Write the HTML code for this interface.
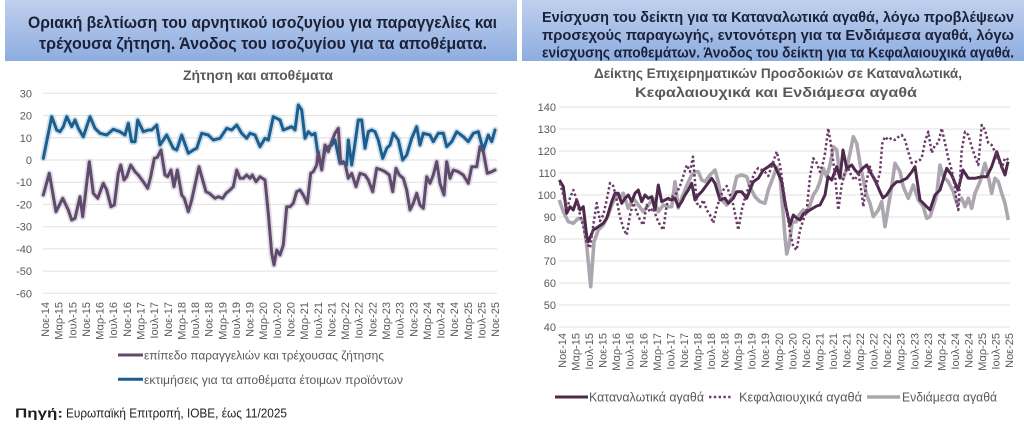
<!DOCTYPE html>
<html><head><meta charset="utf-8"><style>
html,body{margin:0;padding:0;background:#fff;width:1024px;height:424px;overflow:hidden}
svg{display:block}
text{font-family:"Liberation Sans","Noto Sans CJK SC",sans-serif}
</style></head><body>
<svg width="1024" height="424" viewBox="0 0 1024 424" xmlns="http://www.w3.org/2000/svg">
<defs>
<linearGradient id="hg" x1="0" y1="0" x2="0" y2="1">
<stop offset="0" stop-color="#c0d0ed"/><stop offset="1" stop-color="#8dade0"/>
</linearGradient>
</defs>
<rect x="0" y="0" width="1024" height="424" fill="#fff"/>
<!-- headers -->
<rect x="5" y="0" width="512" height="61" fill="url(#hg)"/>
<rect x="522" y="0" width="502" height="61" fill="url(#hg)"/>
<g fill="#1b2138" font-weight="bold">
<text x="28" y="28" font-size="16.5" textLength="469" lengthAdjust="spacingAndGlyphs">Οριακή βελτίωση του αρνητικού ισοζυγίου για παραγγελίες και</text>
<text x="39" y="49" font-size="16.5" textLength="448" lengthAdjust="spacingAndGlyphs">τρέχουσα ζήτηση. Άνοδος του ισοζυγίου για τα αποθέματα.</text>
<text x="542" y="22" font-size="14.5" textLength="472" lengthAdjust="spacingAndGlyphs">Ενίσχυση του δείκτη για τα Καταναλωτικά αγαθά, λόγω προβλέψεων</text>
<text x="542" y="40" font-size="14.5" textLength="472" lengthAdjust="spacingAndGlyphs">προσεχούς παραγωγής, εντονότερη για τα Ενδιάμεσα αγαθά, λόγω</text>
<text x="542" y="57.5" font-size="14.5" textLength="472" lengthAdjust="spacingAndGlyphs">ενίσχυσης αποθεμάτων. Άνοδος του δείκτη για τα Κεφαλαιουχικά αγαθά.</text>
</g>
<!-- chart titles -->
<g fill="#595959" font-weight="bold">
<text x="183" y="80" font-size="13.5" textLength="150" lengthAdjust="spacingAndGlyphs">Ζήτηση και αποθέματα</text>
<text x="594" y="78" font-size="13.5" textLength="368" lengthAdjust="spacingAndGlyphs">Δείκτης Επιχειρηματικών Προσδοκιών σε Καταναλωτικά,</text>
<text x="635" y="97" font-size="13.5" textLength="282" lengthAdjust="spacingAndGlyphs">Κεφαλαιουχικά και Ενδιάμεσα αγαθά</text>
</g>
<!-- left gridlines -->
<g stroke="#e0e0e0" stroke-width="1">
<line x1="43" x2="497" y1="93.3" y2="93.3"/><line x1="43" x2="497" y1="115.6" y2="115.6"/>
<line x1="43" x2="497" y1="137.8" y2="137.8"/><line x1="43" x2="497" y1="160" y2="160"/>
<line x1="43" x2="497" y1="182.2" y2="182.2"/><line x1="43" x2="497" y1="204.4" y2="204.4"/>
<line x1="43" x2="497" y1="226.7" y2="226.7"/><line x1="43" x2="497" y1="248.9" y2="248.9"/>
<line x1="43" x2="497" y1="271.1" y2="271.1"/><line x1="43" x2="497" y1="293.3" y2="293.3"/>
</g>
<g fill="#595959" font-size="11" text-anchor="end">
<text x="32" y="97.3">30</text><text x="32" y="119.6">20</text><text x="32" y="141.8">10</text>
<text x="32" y="164">0</text><text x="32" y="186.2">-10</text><text x="32" y="208.4">-20</text>
<text x="32" y="230.7">-30</text><text x="32" y="252.9">-40</text><text x="32" y="275.1">-50</text>
<text x="32" y="297.3">-60</text>
</g>
<!-- right gridlines -->
<g stroke="#e0e0e0" stroke-width="1">
<line x1="559" x2="1010" y1="107" y2="107"/><line x1="559" x2="1010" y1="129" y2="129"/>
<line x1="559" x2="1010" y1="151" y2="151"/><line x1="559" x2="1010" y1="173" y2="173"/>
<line x1="559" x2="1010" y1="195" y2="195"/><line x1="559" x2="1010" y1="217" y2="217"/>
<line x1="559" x2="1010" y1="239" y2="239"/><line x1="559" x2="1010" y1="261" y2="261"/>
<line x1="559" x2="1010" y1="283" y2="283"/><line x1="559" x2="1010" y1="305" y2="305"/>
<line x1="559" x2="1010" y1="327" y2="327"/>
</g>
<g fill="#595959" font-size="11" text-anchor="end">
<text x="556" y="111">140</text><text x="556" y="133">130</text><text x="556" y="155">120</text>
<text x="556" y="177">110</text><text x="556" y="199">100</text><text x="556" y="221">90</text>
<text x="556" y="243">80</text><text x="556" y="265">70</text><text x="556" y="287">60</text>
<text x="556" y="309">50</text><text x="556" y="331">40</text>
</g>
<!-- left x labels -->
<g fill="#595959" font-size="11" text-anchor="end">
<text transform="translate(45,302) rotate(-90)" y="4">Νοε-14</text>
<text transform="translate(58.6,302) rotate(-90)" y="4">Μαρ-15</text>
<text transform="translate(72.3,302) rotate(-90)" y="4">Ιουλ-15</text>
<text transform="translate(85.9,302) rotate(-90)" y="4">Νοε-15</text>
<text transform="translate(99.6,302) rotate(-90)" y="4">Μαρ-16</text>
<text transform="translate(113.2,302) rotate(-90)" y="4">Ιουλ-16</text>
<text transform="translate(126.8,302) rotate(-90)" y="4">Νοε-16</text>
<text transform="translate(140.5,302) rotate(-90)" y="4">Μαρ-17</text>
<text transform="translate(154.1,302) rotate(-90)" y="4">Ιουλ-17</text>
<text transform="translate(167.8,302) rotate(-90)" y="4">Νοε-17</text>
<text transform="translate(181.4,302) rotate(-90)" y="4">Μαρ-18</text>
<text transform="translate(195,302) rotate(-90)" y="4">Ιουλ-18</text>
<text transform="translate(208.7,302) rotate(-90)" y="4">Νοε-18</text>
<text transform="translate(222.3,302) rotate(-90)" y="4">Μαρ-19</text>
<text transform="translate(236,302) rotate(-90)" y="4">Ιουλ-19</text>
<text transform="translate(249.6,302) rotate(-90)" y="4">Νοε-19</text>
<text transform="translate(263.2,302) rotate(-90)" y="4">Μαρ-20</text>
<text transform="translate(276.9,302) rotate(-90)" y="4">Ιουλ-20</text>
<text transform="translate(290.5,302) rotate(-90)" y="4">Νοε-20</text>
<text transform="translate(304.2,302) rotate(-90)" y="4">Μαρ-21</text>
<text transform="translate(317.8,302) rotate(-90)" y="4">Ιουλ-21</text>
<text transform="translate(331.4,302) rotate(-90)" y="4">Νοε-21</text>
<text transform="translate(345.1,302) rotate(-90)" y="4">Μαρ-22</text>
<text transform="translate(358.7,302) rotate(-90)" y="4">Ιουλ-22</text>
<text transform="translate(372.4,302) rotate(-90)" y="4">Νοε-22</text>
<text transform="translate(386,302) rotate(-90)" y="4">Μαρ-23</text>
<text transform="translate(399.6,302) rotate(-90)" y="4">Ιουλ-23</text>
<text transform="translate(413.3,302) rotate(-90)" y="4">Νοε-23</text>
<text transform="translate(426.9,302) rotate(-90)" y="4">Μαρ-24</text>
<text transform="translate(440.6,302) rotate(-90)" y="4">Ιουλ-24</text>
<text transform="translate(454.2,302) rotate(-90)" y="4">Νοε-24</text>
<text transform="translate(467.8,302) rotate(-90)" y="4">Μαρ-25</text>
<text transform="translate(481.5,302) rotate(-90)" y="4">Ιουλ-25</text>
<text transform="translate(495.1,302) rotate(-90)" y="4">Νοε-25</text>
</g>
<!-- right x labels -->
<g fill="#595959" font-size="11" text-anchor="end">
<text transform="translate(562,333) rotate(-90)" y="4">Νοε-14</text>
<text transform="translate(575.5,333) rotate(-90)" y="4">Μαρ-15</text>
<text transform="translate(589.1,333) rotate(-90)" y="4">Ιουλ-15</text>
<text transform="translate(602.6,333) rotate(-90)" y="4">Νοε-15</text>
<text transform="translate(616.2,333) rotate(-90)" y="4">Μαρ-16</text>
<text transform="translate(629.7,333) rotate(-90)" y="4">Ιουλ-16</text>
<text transform="translate(643.3,333) rotate(-90)" y="4">Νοε-16</text>
<text transform="translate(656.8,333) rotate(-90)" y="4">Μαρ-17</text>
<text transform="translate(670.4,333) rotate(-90)" y="4">Ιουλ-17</text>
<text transform="translate(683.9,333) rotate(-90)" y="4">Νοε-17</text>
<text transform="translate(697.5,333) rotate(-90)" y="4">Μαρ-18</text>
<text transform="translate(711,333) rotate(-90)" y="4">Ιουλ-18</text>
<text transform="translate(724.6,333) rotate(-90)" y="4">Νοε-18</text>
<text transform="translate(738.1,333) rotate(-90)" y="4">Μαρ-19</text>
<text transform="translate(751.7,333) rotate(-90)" y="4">Ιουλ-19</text>
<text transform="translate(765.2,333) rotate(-90)" y="4">Νοε-19</text>
<text transform="translate(778.8,333) rotate(-90)" y="4">Μαρ-20</text>
<text transform="translate(792.3,333) rotate(-90)" y="4">Ιουλ-20</text>
<text transform="translate(805.9,333) rotate(-90)" y="4">Νοε-20</text>
<text transform="translate(819.4,333) rotate(-90)" y="4">Μαρ-21</text>
<text transform="translate(833,333) rotate(-90)" y="4">Ιουλ-21</text>
<text transform="translate(846.5,333) rotate(-90)" y="4">Νοε-21</text>
<text transform="translate(860.1,333) rotate(-90)" y="4">Μαρ-22</text>
<text transform="translate(873.6,333) rotate(-90)" y="4">Ιουλ-22</text>
<text transform="translate(887.2,333) rotate(-90)" y="4">Νοε-22</text>
<text transform="translate(900.7,333) rotate(-90)" y="4">Μαρ-23</text>
<text transform="translate(914.3,333) rotate(-90)" y="4">Ιουλ-23</text>
<text transform="translate(927.8,333) rotate(-90)" y="4">Νοε-23</text>
<text transform="translate(941.4,333) rotate(-90)" y="4">Μαρ-24</text>
<text transform="translate(954.9,333) rotate(-90)" y="4">Ιουλ-24</text>
<text transform="translate(968.5,333) rotate(-90)" y="4">Νοε-24</text>
<text transform="translate(982,333) rotate(-90)" y="4">Μαρ-25</text>
<text transform="translate(995.6,333) rotate(-90)" y="4">Ιουλ-25</text>
<text transform="translate(1009,333) rotate(-90)" y="4">Νοε-25</text>
</g>
<!-- left series -->
<g fill="none" stroke-linejoin="round" stroke-linecap="round">
<polyline id="blue" stroke="#a9c6df" stroke-width="6.5" opacity="0.55" points="43.3,158.3 51.7,116.7 56.7,130 60,131.7 63.3,126.7 66.7,116.7 71.7,126.7 75,120 78.3,128.3 83.3,136.7 90,116.7 95,128.3 100,133.3 106.7,135 113.3,129.3 120,131.7 125,135 128.3,123.3 131.7,141.7 135,141.7 137.7,120 143.3,131.7 148.3,130 151.7,130 156.7,125 160,145 166.7,135 173.3,148.3 176.7,150 181.7,135 188.3,153.3 193.3,150 196.7,148.3 201.7,133.3 208.3,135 213.3,140 220,138.3 226.7,128.3 231.7,130 236.7,125 241.7,133.3 246.7,138.3 250,133.3 255,135 260,146.7 265,138.3 268.3,140 273.3,116.7 280,120 283.3,130 291.7,126.7 295,130 298.3,105 301.7,110 305,138.3 308.3,131.7 311.7,135 315,133.3 318.3,156.7 321.7,166.7 325,150 328.3,146.7 331.7,145 335,140 340,163.3 343.3,161.7 346.7,165 348.3,140 351.7,165 355,143.3 358.3,120 361.7,120 365,148.3 368.3,131.7 371.7,130 375,131.7 378.3,140 382.7,158.3 386.7,148.3 390,145 393.3,133.3 398.3,140 402.7,160 406.7,155 411.7,138.3 416.7,126.7 420,145 423.3,133.3 430,135 433.3,141.7 438.3,133.3 443.3,133.3 446.7,146.7 451.7,141.7 456.7,131.7 463.3,136.7 468.3,141.7 473.3,133.3 478.3,131.7 483.3,150 488.3,135 491.7,141.7 495,130"/>
<polyline stroke="#c9bfd0" stroke-width="6.5" opacity="0.55" points="43.3,195 49.3,173.3 56,211.7 62.7,198.3 68.3,210 71.7,220 75,218.3 80,196.7 82.7,216.7 89.3,161.7 93.3,193.3 97.7,198.3 103.3,183.3 106.7,190 111,206.7 114.3,205 118.3,173.3 120.7,165 124,180 126.7,176.7 130.7,165 135,171.7 138.3,175 143.3,181.7 147.7,188.3 150.7,176.7 154.3,158.3 157.3,157.3 161,150 165,175 167.7,176.7 171,170 174,186.7 177.3,170 181.7,195 184.3,198.3 188.3,211.7 191.7,200 195.7,181.7 199,166.7 201.7,176.7 206,191.7 209.3,193.3 215,198.3 218.3,196.7 222.7,198.3 226,193.3 230,190 233.3,186.7 236.7,170 240,178.3 243.3,178.3 246.7,175 250,178.3 252.3,175 256,181.7 260,176.7 265,180 268.3,213.3 271.7,253.3 274,265 276.7,250 280,255 283.3,245 286.7,206.7 290,206.7 293.3,203.3 296.7,191.7 300,190 303.3,195 307.3,203.3 310.7,173.3 313.3,171.7 316.7,165 318.3,151.7 321.7,170 325,145 328.3,151.7 331.7,141.7 335,133.3 338.3,128.3 340.7,163.3 345,163.3 348.3,178.3 351.7,173.3 356,186.7 360,173.3 365,175 368.3,180 372.7,191.7 376.7,168.3 381.7,170 385,171.7 389.3,175 392.7,191.7 396,168.3 399.3,175 403.3,178.3 406.7,190 410,210 413.3,203.3 416.7,193.3 420,205 423.3,208.3 426.7,176.7 430,183.3 433.3,175 436.7,161.7 440,183.3 444,195 446.7,161.7 450,178.3 453.3,170 458.3,171.7 463.3,175 468.3,183.3 471.7,166.7 476.7,166.7 480,146.7 483.3,151.7 487.3,173.3 491.7,171.7 495,170"/>
<polyline stroke="#1c5f8e" stroke-width="3" points="43.3,158.3 51.7,116.7 56.7,130 60,131.7 63.3,126.7 66.7,116.7 71.7,126.7 75,120 78.3,128.3 83.3,136.7 90,116.7 95,128.3 100,133.3 106.7,135 113.3,129.3 120,131.7 125,135 128.3,123.3 131.7,141.7 135,141.7 137.7,120 143.3,131.7 148.3,130 151.7,130 156.7,125 160,145 166.7,135 173.3,148.3 176.7,150 181.7,135 188.3,153.3 193.3,150 196.7,148.3 201.7,133.3 208.3,135 213.3,140 220,138.3 226.7,128.3 231.7,130 236.7,125 241.7,133.3 246.7,138.3 250,133.3 255,135 260,146.7 265,138.3 268.3,140 273.3,116.7 280,120 283.3,130 291.7,126.7 295,130 298.3,105 301.7,110 305,138.3 308.3,131.7 311.7,135 315,133.3 318.3,156.7 321.7,166.7 325,150 328.3,146.7 331.7,145 335,140 340,163.3 343.3,161.7 346.7,165 348.3,140 351.7,165 355,143.3 358.3,120 361.7,120 365,148.3 368.3,131.7 371.7,130 375,131.7 378.3,140 382.7,158.3 386.7,148.3 390,145 393.3,133.3 398.3,140 402.7,160 406.7,155 411.7,138.3 416.7,126.7 420,145 423.3,133.3 430,135 433.3,141.7 438.3,133.3 443.3,133.3 446.7,146.7 451.7,141.7 456.7,131.7 463.3,136.7 468.3,141.7 473.3,133.3 478.3,131.7 483.3,150 488.3,135 491.7,141.7 495,130"/>
<polyline stroke="#5f4b6b" stroke-width="3" points="43.3,195 49.3,173.3 56,211.7 62.7,198.3 68.3,210 71.7,220 75,218.3 80,196.7 82.7,216.7 89.3,161.7 93.3,193.3 97.7,198.3 103.3,183.3 106.7,190 111,206.7 114.3,205 118.3,173.3 120.7,165 124,180 126.7,176.7 130.7,165 135,171.7 138.3,175 143.3,181.7 147.7,188.3 150.7,176.7 154.3,158.3 157.3,157.3 161,150 165,175 167.7,176.7 171,170 174,186.7 177.3,170 181.7,195 184.3,198.3 188.3,211.7 191.7,200 195.7,181.7 199,166.7 201.7,176.7 206,191.7 209.3,193.3 215,198.3 218.3,196.7 222.7,198.3 226,193.3 230,190 233.3,186.7 236.7,170 240,178.3 243.3,178.3 246.7,175 250,178.3 252.3,175 256,181.7 260,176.7 265,180 268.3,213.3 271.7,253.3 274,265 276.7,250 280,255 283.3,245 286.7,206.7 290,206.7 293.3,203.3 296.7,191.7 300,190 303.3,195 307.3,203.3 310.7,173.3 313.3,171.7 316.7,165 318.3,151.7 321.7,170 325,145 328.3,151.7 331.7,141.7 335,133.3 338.3,128.3 340.7,163.3 345,163.3 348.3,178.3 351.7,173.3 356,186.7 360,173.3 365,175 368.3,180 372.7,191.7 376.7,168.3 381.7,170 385,171.7 389.3,175 392.7,191.7 396,168.3 399.3,175 403.3,178.3 406.7,190 410,210 413.3,203.3 416.7,193.3 420,205 423.3,208.3 426.7,176.7 430,183.3 433.3,175 436.7,161.7 440,183.3 444,195 446.7,161.7 450,178.3 453.3,170 458.3,171.7 463.3,175 468.3,183.3 471.7,166.7 476.7,166.7 480,146.7 483.3,151.7 487.3,173.3 491.7,171.7 495,170"/>
</g>
<!-- right series -->
<g fill="none" stroke-linejoin="round">
<polyline stroke="#aca7af" stroke-width="3.6" points="559.3,200 563.3,211.7 568.3,221.7 573.3,223.3 578.3,218.3 583.3,220 586.7,245 590.7,286.7 594,241.7 598.3,230 603.3,225 608.3,215 611.7,205 616.7,195 620,198.3 623.3,193.3 628.3,208.3 633.3,198.3 638.3,205 643.3,211.7 648.3,205 653.3,198.3 658.3,211.7 663.3,205 668.3,206.7 671.7,206.7 675,181.7 678.3,208 681.7,198 685,190 688.3,182 691.7,175 695,172 698.3,171.7 701.7,180 705,181.7 710,175 715,170 718.3,181.7 721.7,200 726.7,205 731.7,198 736.7,176.7 741.7,175 746.7,176.7 750,186.7 755,196.7 760,201.7 765,203.3 768.3,190 773.3,176.7 776.7,167 780,176.7 783.3,215 785,236.7 786.7,254 789,245 792.3,222 796,222 799,215 803.3,210 806.7,213 810,205 813.3,195 816.7,190 820,181.7 823.3,168.3 826.7,176.7 830,165 833.3,146.7 836.7,150 840,176.7 843.3,178.3 846.7,168.3 850,153.3 853.3,136.7 856.7,143.3 860,163.3 863.3,180 866.7,195 870,203.3 873.3,216.7 878.3,210 881.7,201.7 885,226.7 888.3,206.7 891.7,186.7 895,163.3 900,171.7 903.3,186.7 908.3,198.3 913.3,185 918.3,200 923.3,206.7 926.7,218.3 930,216.7 933.3,206.7 936.7,195 940,165 943.3,176.7 948.3,181.7 953.3,191.7 956.7,203.3 961.7,198.3 965,206.7 968.3,198.3 971.7,208.3 975,193.3 980,181.7 985,163.3 988.3,176.7 991.7,193.3 995,178.3 998.3,181.7 1001.7,193.3 1005,203.3 1008.3,220"/>
<polyline stroke="#4d2a4c" stroke-width="3" points="559.3,180 563.3,186.7 566.7,213.3 570,206.7 573.3,210 576.7,200 580,210 583.3,206.7 586.7,236 588.3,241.7 593.3,230 598.3,226.7 603.3,223.3 606.7,218.3 611.7,201.7 615,193.3 618.3,193.3 621.7,203.3 625,198.3 628.3,195 631.7,201.7 635,193.3 638.3,190 641.7,201.7 645,195 648.3,198.3 651.7,196.7 655,210 658.3,185 661.7,201.7 665,200 668.3,198.3 671.7,200 675,198.3 678.3,206.7 681.7,201.7 685,195 688.3,190 691.7,183.3 695,200 698.3,195 701.7,191.7 706.7,185 711.7,178.3 715,183.3 720,200 725,198.3 728.3,203.3 733.3,198.3 736.7,191.7 741.7,191.7 746.7,198.3 750,190 753.3,181.7 758.3,178.3 763.3,170 768.3,166.7 773,163 776.7,170 781.7,181.7 785,203 788,216.7 790,225 793.3,215 796.7,218 800,220 803.3,214 806.7,212 810,210 813.3,208 816.7,206 820,205 825,195 828,176.7 831.7,180 836.7,166.7 840,178 843,150 846.7,168.3 851.7,165 855,170 858.3,173.3 863,168 866.7,165 870,171.7 875,180 880,191.7 883,198 886.7,195 891.7,186.7 896.7,181.7 900,181.7 906.7,178.3 911.7,172 915,166.7 920,200 925,205 930,210 935,195 940,190 946.7,168.3 951.7,175 958,190 963,170 968.3,178.3 975,178.3 981.7,176.7 986.7,176.7 991.7,166.7 996.7,151.7 1001.7,166.7 1005,175 1008,161.7"/>
<polyline stroke="#6a3a68" stroke-width="2.5" stroke-dasharray="2.4 2.4" points="560,183 563.3,195 566.7,210 570,198 573.3,190 576.7,200 580,215 583.3,226 586.7,243 590,248 593.3,225 596.7,203 600,221 603.3,215 606.7,200 610,183 613.3,186 616.7,200 620,216.7 623.3,228 626.7,235 630,215 633.3,203 636.7,212 640,220 643.3,225 646.7,205 650,212 653.3,208 656.7,218 660,225 663.3,230 666.7,205 670,198 673.3,196 676.7,193 680,186 683.3,176 686.7,165 690,171.7 693,156.7 696.7,203 700,207 703.3,200 706.7,210 710,215 713.3,223 716.7,208 720,198 723.3,190 726.7,186 730,195 733.3,205 736.7,222 738.3,230 741.7,210 745,198 748.3,188 751.7,180 755,172 758.3,168 761.7,170 765,172 768.3,176 771.7,166 776.7,151.7 780,165 783.3,188 786.7,210 790,232 793.3,246.7 796.7,250 800,230 803.3,220 806.7,210 810,176.7 813.3,158.3 816.7,163 820,172 823.3,162 825,153.3 828.3,128.3 831.7,150 835,175 838.3,210 841.7,185 845,172 848.3,168 851.7,176.7 855,180 858.3,172 861.7,193.3 863.3,206.7 866.7,180 870,166.7 873.3,178 876.7,185 880,172 882.3,143.3 885,136.7 888.3,140 891.7,138 895,140 898.3,137 901.7,135 905,140 908.3,152 911.7,163 915,162 918.3,161.7 921.7,158 925,141.7 928.3,131.7 931.7,153 935,145 938.3,143 941.7,128.3 945,143 948.3,158.3 951.7,170 955,187 956.7,203 958.3,210 961.7,150 965,131.7 968.3,135 971.7,146.7 975,156.7 978.3,165 981.7,125 985,130 988.3,143 991.7,145 995,152 998.3,160 1001.7,168 1005,158 1009,160"/>
</g>
<!-- left legend -->
<line x1="118" y1="355" x2="143" y2="355" stroke="#5f4b6b" stroke-width="3"/>
<line x1="118" y1="379.3" x2="143" y2="379.3" stroke="#1c5f8e" stroke-width="3"/>
<g fill="#595959" font-size="12">
<text x="144" y="359.5" textLength="240" lengthAdjust="spacingAndGlyphs">επίπεδο παραγγελιών και τρέχουσας ζήτησης</text>
<text x="144" y="383.8" textLength="259" lengthAdjust="spacingAndGlyphs">εκτιμήσεις για τα αποθέματα έτοιμων προϊόντων</text>
</g>
<!-- source -->
<text x="15" y="417.5" font-size="13" font-weight="bold" fill="#1f1f1f" textLength="48" lengthAdjust="spacingAndGlyphs">Πηγή:</text>
<text x="66" y="417.5" font-size="13" fill="#1f1f1f" textLength="221" lengthAdjust="spacingAndGlyphs">Ευρωπαϊκή Επιτροπή, ΙΟΒΕ, έως 11/2025</text>
<!-- right legend -->
<line x1="555" y1="397" x2="588" y2="397" stroke="#4d2a4c" stroke-width="3"/>
<line x1="709" y1="397" x2="731" y2="397" stroke="#6a3a68" stroke-width="2.5" stroke-dasharray="2.4 2.4"/>
<line x1="867" y1="397" x2="900" y2="397" stroke="#aca7af" stroke-width="3.6"/>
<g fill="#595959" font-size="12.5">
<text x="589" y="401.5" textLength="115" lengthAdjust="spacingAndGlyphs">Καταναλωτικά αγαθά</text>
<text x="739" y="401.5" textLength="123" lengthAdjust="spacingAndGlyphs">Κεφαλαιουχικά αγαθά</text>
<text x="902" y="401.5" textLength="95" lengthAdjust="spacingAndGlyphs">Ενδιάμεσα αγαθά</text>
</g>
</svg>
</body></html>
